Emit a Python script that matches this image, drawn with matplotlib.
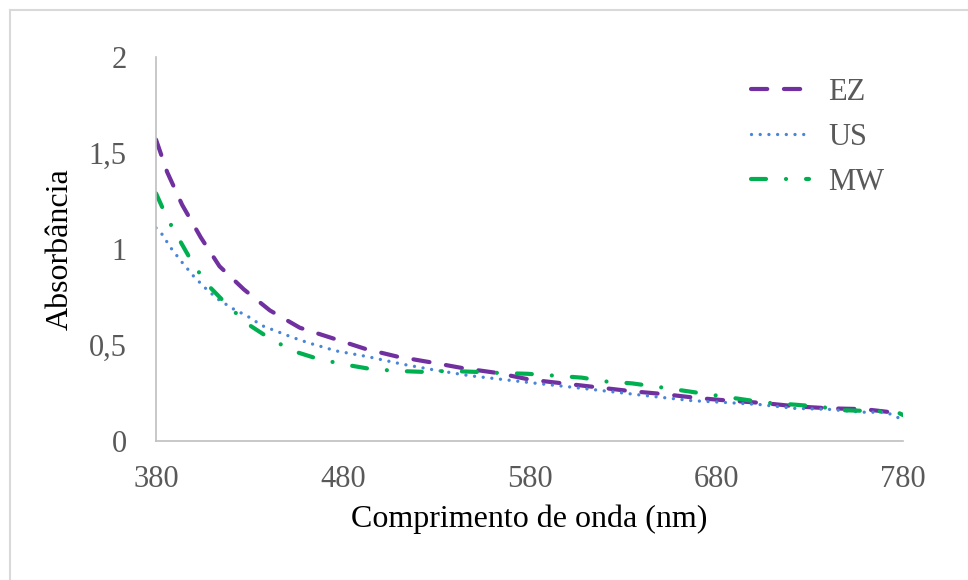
import matplotlib
matplotlib.use("Agg")
import matplotlib.pyplot as plt
from matplotlib.lines import Line2D

# Absorbance spectra (wavelength in nm)
wl_ez = [380, 386, 394, 404, 414, 427, 441, 457, 473, 492, 509, 527, 544, 563,
         580, 598, 616, 634, 651, 670, 687, 705, 723, 741, 759, 777, 780]
abs_ez = [1.57, 1.40, 1.23, 1.06, 0.91, 0.79, 0.68, 0.59, 0.54, 0.48, 0.44, 0.41,
          0.38, 0.354, 0.32, 0.30, 0.28, 0.26, 0.245, 0.224, 0.21, 0.198, 0.18,
          0.17, 0.166, 0.146, 0.14]

wl_us = [380, 383, 388, 394, 400, 406, 413, 421, 429, 437, 445, 453, 462, 471,
         476, 493, 512, 529, 548, 566, 584, 603, 621, 630, 648, 667, 686, 703,
         722, 740, 758, 771, 780]
abs_us = [1.11, 1.08, 1.005, 0.93, 0.86, 0.80, 0.74, 0.69, 0.65, 0.60, 0.57, 0.54,
          0.51, 0.485, 0.47, 0.44, 0.40, 0.37, 0.34, 0.32, 0.30, 0.28, 0.26, 0.25,
          0.23, 0.21, 0.20, 0.19, 0.17, 0.165, 0.15, 0.15, 0.11]

wl_mw = [380, 386, 393, 400, 408, 418, 429, 440, 453, 466, 480, 495, 509, 523,
         537, 551, 565, 579, 594, 608, 621, 635, 650, 664, 678, 692, 706, 721,
         734, 749, 763, 777, 780]
abs_mw = [1.29, 1.16, 1.04, 0.92, 0.81, 0.71, 0.61, 0.54, 0.47, 0.43, 0.40, 0.375,
          0.365, 0.36, 0.365, 0.36, 0.354, 0.35, 0.34, 0.33, 0.31, 0.30, 0.28,
          0.26, 0.24, 0.22, 0.20, 0.19, 0.18, 0.16, 0.156, 0.15, 0.135]

x_ticks = [380, 480, 580, 680, 780]
y_ticks = [0, 0.5, 1, 1.5, 2]
y_tick_labels = ["0", "0,5", "1", "1,5", "2"]

plt.rcParams["font.family"] = ["Liberation Serif", "DejaVu Serif"]

W, H = 968, 580
fig = plt.figure(figsize=(W / 100, H / 100), dpi=100)
ax = fig.add_axes([156 / W, 1 - 441 / H, (903 - 156) / W, (441 - 57) / H])

ax.plot(wl_ez, abs_ez, color="#7030A0", lw=3.0, dashes=(3.9, 4.0),
        dash_capstyle="round", label="EZ")
ax.plot(wl_us, abs_us, color="#4A86D8", lw=2.4, dashes=(0.01, 2.6),
        dash_capstyle="round", label="US")
ax.plot(wl_mw, abs_mw, color="#00B050", lw=3.0, dashes=(3.6, 4.8, 0.01, 4.8),
        dash_capstyle="round", label="MW")

ax.set_xlim(380, 780)
ax.set_ylim(0, 2)
ax.set_xticks(x_ticks)
ax.set_xticklabels([str(t) for t in x_ticks])
ax.set_yticks(y_ticks)
ax.set_yticklabels(y_tick_labels)
ax.tick_params(axis="both", length=0, labelsize=22, labelcolor="#595959")
ax.tick_params(axis="x", pad=17)
ax.tick_params(axis="y", pad=21)

for side in ("top", "right"):
    ax.spines[side].set_visible(False)
for side in ("left", "bottom"):
    ax.spines[side].set_color("#BFBFBF")
    ax.spines[side].set_linewidth(1.2)

ax.set_xlabel("Comprimento de onda (nm)", fontsize=23, color="black", labelpad=8)
ax.set_ylabel("Absorbância", fontsize=23, color="black", labelpad=10)

leg = fig.legend(loc="upper left", bbox_to_anchor=(751 / W, 1 - 78 / H),
                 frameon=False, borderpad=0, borderaxespad=0,
                 fontsize=22, handlelength=1.9, handletextpad=0.62,
                 labelspacing=0.52, labelcolor="#595959")

# chart frame (left and top edges)
frame_kw = dict(color="#D9D9D9", lw=1.5, transform=fig.transFigure)
fig.add_artist(Line2D([9.5 / W, 9.5 / W], [0, 1 - 9.5 / H], **frame_kw))
fig.add_artist(Line2D([9.5 / W, 1], [1 - 9.5 / H, 1 - 9.5 / H], **frame_kw))

fig.savefig("out.png", dpi=100, facecolor="white")
